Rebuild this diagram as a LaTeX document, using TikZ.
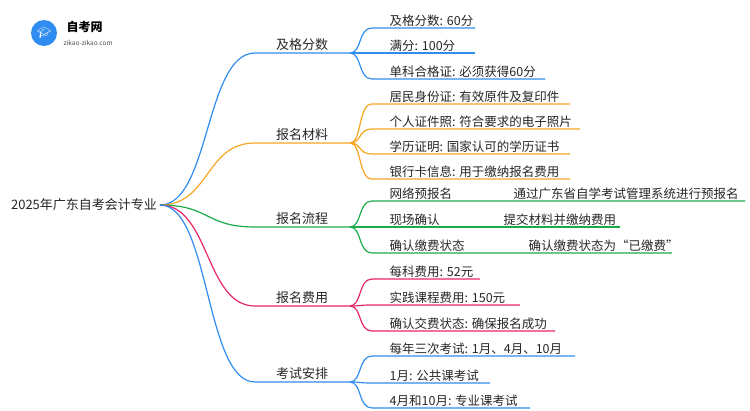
\documentclass[tikz,border=0pt]{standalone}
\usepackage{fontspec}
\setmainfont{Noto Sans CJK SC}
\newfontfamily\emojifont{Noto Emoji}
\definecolor{bb}{HTML}{2F8CF0}
\definecolor{oo}{HTML}{F5A623}
\definecolor{gg}{HTML}{1BAA4A}
\definecolor{pp}{HTML}{E8256B}
\begin{document}
\begin{tikzpicture}[x=1pt,y=-1pt,
  lbl/.style={anchor=south west,inner sep=1.5pt,font=\fontsize{12.5}{14}\selectfont,text=black!85},
  br/.style={anchor=south,inner sep=2pt,font=\fontsize{13}{15}\selectfont,text=black!85},
  ln/.style={line width=1.2pt}]
\useasboundingbox (0,0) rectangle (750,410);
% logo
\fill[bb] (44,33) circle (13);
\node[text=white,font=\emojifont\fontsize{11}{11}\selectfont] (logoicon) at (44,33) {🎓};
\node[font=\bfseries\fontsize{12}{12}\selectfont,anchor=west] (logo) at (63,27) {自考网};
\node[font=\fontsize{6.5}{7}\selectfont,anchor=west,text=black!70] (logourl) at (60,43) {zikao-zikao.com};
% root
\node[font=\fontsize{13}{15}\selectfont,text=black!85] (root) at (84,205) {2025年广东自考会计专业};
\coordinate (r) at (160,205);
\foreach \name/\y/\c in {及格分数/53/bb,报名材料/143/oo,报名流程/227/gg,报名费用/306/pp,考试安排/382/bb}{
  \draw[ln,\c] (r) .. controls (210,205) and (205,\y) .. (255,\y) -- (350,\y);
  \node[br] at (302,\y) {\name};
}
% leaves
\foreach \t/\y/\by/\c/\e in {
  {及格分数: 60分}/28/53/bb/475,
  {满分: 100分}/53/53/bb/475,
  {单科合格证: 必须获得60分}/79/53/bb/545,
  {居民身份证: 有效原件及复印件}/104/143/oo/570,
  {个人证件照: 符合要求的电子照片}/129/143/oo/580,
  {学历证明: 国家认可的学历证书}/154/143/oo/570,
  {银行卡信息: 用于缴纳报名费用}/179/143/oo/570,
  {每科费用: 52元}/279/306/pp/480,
  {实践课程费用: 150元}/305/306/pp/520,
  {确认交费状态: 确保报名成功}/331/306/pp/555,
  {每年三次考试: 1月、4月、10月}/356/382/bb/575,
  {1月: 公共课考试}/383/382/bb/490,
  {4月和10月: 专业课考试}/408/382/bb/530}{
  \draw[ln,\c] (350,\by) .. controls (362,\by) and (358,\y) .. (372,\y) -- (\e,\y);
  \node[lbl] at (388,\y) {\t};
}
% green leaves with sub
\foreach \t/\s/\y/\sx/\e in {
  {网络预报名}/{通过广东省自学考试管理系统进行预报名}/201/512/745,
  {现场确认}/{提交材料并缴纳费用}/227/502/620,
  {确认缴费状态}/{确认缴费状态为“已缴费”}/253/527/672}{
  \draw[ln,gg] (350,227) .. controls (362,227) and (358,\y) .. (372,\y) -- (\e,\y);
  \node[lbl] at (388,\y) {\t};
  \node[lbl] at (\sx,\y) {\s};
}
\end{tikzpicture}
\end{document}
